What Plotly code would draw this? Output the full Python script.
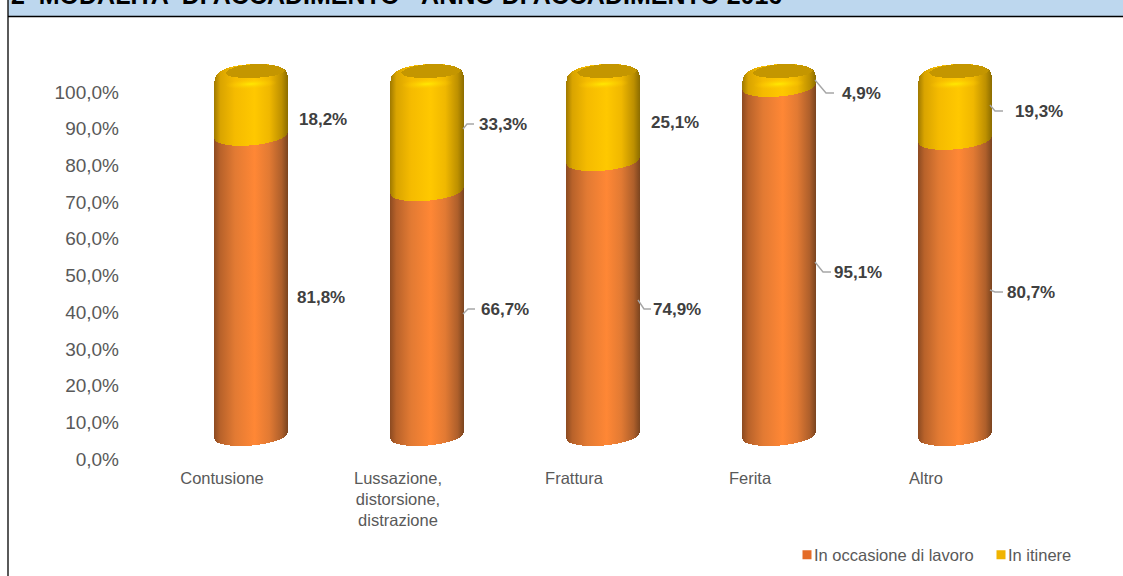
import plotly.graph_objects as go

W, H = 1123, 576

categories = ["Contusione", "Lussazione,<br>distorsione,<br>distrazione", "Frattura", "Ferita", "Altro"]
in_occasione = [81.8, 66.7, 74.9, 95.1, 80.7]
in_itinere = [18.2, 33.3, 25.1, 4.9, 19.3]
y_ticks = [0, 10, 20, 30, 40, 50, 60, 70, 80, 90, 100]
y_tick_labels = ["0,0%", "10,0%", "20,0%", "30,0%", "40,0%", "50,0%", "60,0%", "70,0%", "80,0%", "90,0%", "100,0%"]
series_names = ["In occasione di lavoro", "In itinere"]
title_text = "2  MODALITA' DI ACCADIMENTO - ANNO DI ACCADIMENTO 2016"

# Layout only (pixel placement of labels and leader lines)
occ_label_px = [(321, 297), (505, 309), (677, 309), (858, 273), (1031, 292)]
iti_label_px = [(323, 119), (503, 125), (675, 122), (861, 94), (1039, 112)]
leaders_px = [
    [(463, 314), (468, 309), (475, 309)],
    [(463, 129), (467, 124), (474, 124)],
    [(638, 300), (644, 309), (651, 309)],
    [(815, 80), (826, 93), (834, 93)],
    [(815, 262), (823, 272), (831, 272)],
    [(990, 105), (995, 111), (1003, 111)],
    [(990, 290), (995, 292), (1003, 292)],
]


def px(x):
    return x / W


def py(y):
    return 1 - y / H


fig = go.Figure()
fig.add_bar(name=series_names[0], x=categories, y=in_occasione, marker_color="#E46C28", marker_line_width=0,
            yaxis="y2", hoverinfo="skip", cliponaxis=False)
fig.add_bar(name=series_names[1], x=categories, y=in_itinere, marker_color="#F0B400", marker_line_width=0,
            yaxis="y2", hoverinfo="skip", cliponaxis=False)
# keeps the visible value axis alive
fig.add_scatter(x=categories, y=in_occasione, yaxis="y", mode="none", showlegend=False, hoverinfo="skip")

shapes = [
    dict(type="rect", xref="paper", yref="paper", x0=px(8), x1=1.01, y0=py(16.5), y1=1.01,
         fillcolor="#BDD7EE", line_width=0, layer="below"),
    dict(type="line", xref="paper", yref="paper", x0=px(8), x1=1, y0=py(16.5), y1=py(16.5),
         line=dict(color="#000000", width=1.6), layer="below"),
    dict(type="line", xref="paper", yref="paper", x0=px(8), x1=px(8), y0=0, y1=1,
         line=dict(color="#000000", width=1.3), layer="below"),
]
for pts in leaders_px:
    d = "M" + " L".join(f"{px(a):.5f},{py(b):.5f}" for a, b in pts)
    shapes.append(dict(type="path", xref="paper", yref="paper", path=d,
                       line=dict(color="#A6A6A6", width=1.4)))

annotations = [dict(text=title_text, xref="paper", yref="paper", x=px(9), y=py(11), xanchor="left", yanchor="bottom",
                    showarrow=False, font=dict(family="Liberation Sans", size=25, color="#000000", weight="bold"))]
for vals, pos in ((in_occasione, occ_label_px), (in_itinere, iti_label_px)):
    for v, (a, b) in zip(vals, pos):
        annotations.append(dict(text=f"{v:.1f}%".replace(".", ","), xref="paper", yref="paper", x=px(a), y=py(b),
                                xanchor="center", yanchor="middle", showarrow=False,
                                font=dict(family="Liberation Sans", size=17, color="#404040", weight="bold")))

fig.update_layout(
    width=W, height=H, margin=dict(l=0, r=0, t=0, b=0, autoexpand=False),
    paper_bgcolor="white", plot_bgcolor="rgba(0,0,0,0)",
    barmode="stack", bargap=0.585,
    font=dict(family="Liberation Sans", color="#595959"),
    xaxis=dict(domain=[px(163), px(1043)], anchor="y", type="category", showgrid=False, showline=False, ticks="",
               tickfont=dict(size=16.5), ticklabelshift=-29, ticklabelstandoff=7, zeroline=False),
    yaxis=dict(domain=[py(459), py(92)], range=[0, 100], anchor="x", tickvals=y_ticks, ticktext=y_tick_labels,
               showgrid=False, zeroline=False, showline=False, ticks="", tickfont=dict(size=19),
               ticklabelstandoff=43),
    yaxis2=dict(domain=[py(436), py(69)], range=[0, 100], anchor="x", visible=False),
    legend=dict(orientation="h", x=px(774), y=py(555), xanchor="left", yanchor="middle",
                font=dict(size=16.5, color="#595959"), bgcolor="rgba(0,0,0,0)", traceorder="normal",
                entrywidth=149, entrywidthmode="pixels",
                itemclick=False, itemdoubleclick=False),
    shapes=shapes, annotations=annotations, showlegend=True,
)

post = r"""
document.body.style.margin='0';
document.documentElement.style.overflow='hidden';
var gd=document.getElementById('{plot_id}');
var svg=gd.querySelector('svg.main-svg');
var NS='http://www.w3.org/2000/svg';
var defs=document.createElementNS(NS,'defs');
function grad(id,stops){
  var g=document.createElementNS(NS,'linearGradient');g.setAttribute('id',id);
  g.setAttribute('x1','0');g.setAttribute('x2','1');g.setAttribute('y1','0');g.setAttribute('y2','0');
  stops.forEach(function(s){var e=document.createElementNS(NS,'stop');e.setAttribute('offset',s[0]);e.setAttribute('stop-color',s[1]);g.appendChild(e);});
  defs.appendChild(g);
}
grad('gOrange',[[0,'#8F4C22'],[0.08,'#B8622A'],[0.28,'#E27A33'],[0.55,'#FF8735'],[0.75,'#E27A33'],[0.92,'#AE5F2B'],[1,'#7E4620']]);
grad('gYellow',[[0,'#A37C00'],[0.08,'#D9A400'],[0.28,'#F5BB00'],[0.55,'#FFC800'],[0.75,'#F0B800'],[0.92,'#BD9000'],[1,'#8F6F00']]);
var rg=document.createElementNS(NS,'radialGradient');rg.setAttribute('id','gHi');
[[0,'#FFE900',1],[1,'#FFC800',0]].forEach(function(s){var e=document.createElementNS(NS,'stop');e.setAttribute('offset',s[0]);e.setAttribute('stop-color',s[1]);e.setAttribute('stop-opacity',s[2]);rg.appendChild(e);});
defs.appendChild(rg);
svg.insertBefore(defs,svg.firstChild);
gd.querySelectorAll('.cartesianlayer [clip-path]').forEach(function(n){n.removeAttribute('clip-path');});
gd.querySelectorAll('.cartesianlayer *').forEach(function(n){if(n.style&&n.style.clipPath){n.style.clipPath='none';}});
var traces=gd.querySelectorAll('.barlayer .trace.bars');
var RE=/M([\d.\-]+),([\d.\-]+)V([\d.\-]+)H([\d.\-]+)V/;
var RY=9.5,TILT=3.2;
function arc(rx,x,y){return 'A'+rx+','+RY+' -5 0 0 '+x+','+y;}
traces.forEach(function(tr,ti){
  tr.querySelectorAll('.point path').forEach(function(p){
    var m=RE.exec(p.getAttribute('d')); if(!m) return;
    var x0=+m[1],yb=+m[2],yt=+m[3],x1=+m[4],rx=(x1-x0)/2,c=(x0+x1)/2,d;
    var start='M'+x0+','+(yb+TILT)+arc(rx,x1,yb-TILT);
    if(ti===0){
      d=start+'L'+x1+','+(yt-TILT)+arc(rx,x0,yt+TILT).replace(' 0 0 ',' 0 1 ')+'Z';
      p.setAttribute('d',d);p.style.fill='url(#gOrange)';
    } else {
      d=start+'L'+x1+','+(yt+6)+'C'+x1+','+(yt-1)+' '+(c+26)+','+(yt-5)+' '+(c+8)+','+(yt-5)
        +'C'+(c-14)+','+(yt-5)+' '+x0+','+(yt-1)+' '+x0+','+(yt+12)+'Z';
      p.setAttribute('d',d);p.style.fill='url(#gYellow)';
      var hi=document.createElementNS(NS,'ellipse');
      hi.setAttribute('cx',c);hi.setAttribute('cy',yt+15);hi.setAttribute('rx',26);hi.setAttribute('ry',5);
      hi.setAttribute('fill','url(#gHi)');hi.setAttribute('transform','rotate(-3 '+c+' '+(yt+15)+')');
      p.parentNode.appendChild(hi);
      var el=document.createElementNS(NS,'path');
      el.setAttribute('d','M'+(c-26)+','+(yt+4)+'C'+(c-22)+','+(yt-2)+' '+(c-6)+','+(yt-5)+' '+(c+8)+','+(yt-5)
        +'C'+(c+24)+','+(yt-5)+' '+(c+33)+','+(yt-1)+' '+(c+34)+','+(yt+2)
        +'C'+(c+30)+','+(yt+7)+' '+(c+12)+','+(yt+9)+' '+(c-2)+','+(yt+9)
        +'C'+(c-14)+','+(yt+9)+' '+(c-24)+','+(yt+8)+' '+(c-26)+','+(yt+4)+'Z');
      el.setAttribute('fill','#C49600');
      p.parentNode.appendChild(el);
    }
  });
});
gd.querySelectorAll('.legendpoints path').forEach(function(p,i){
  p.setAttribute('d','M17.5,4.5H8.5V-4.5H17.5Z');
});
"""

fig.write_html("out.html", post_script=post, config=dict(displayModeBar=False))
